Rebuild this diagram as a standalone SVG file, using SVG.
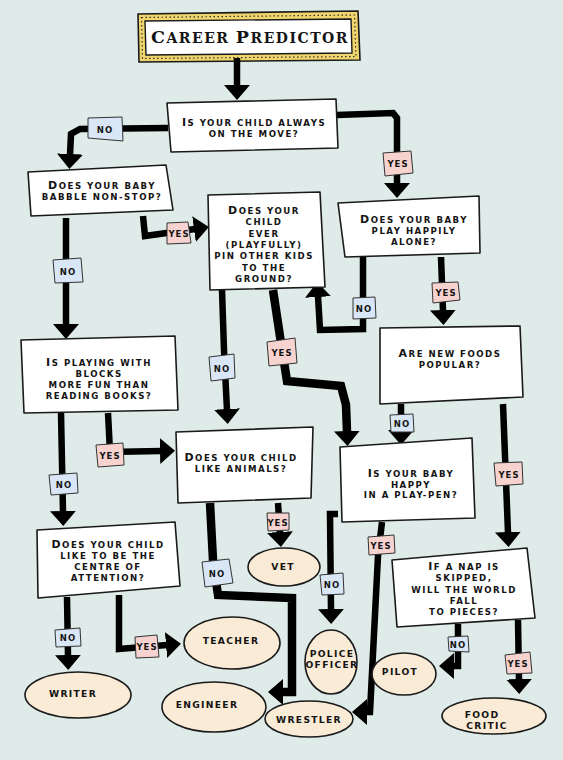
<svg xmlns="http://www.w3.org/2000/svg" width="563" height="760" viewBox="0 0 563 760">
<defs>
<style>
.bg{fill:#deebe8}
.box{fill:#fff;stroke:#1a1a1a;stroke-width:1.6;stroke-linejoin:round}
.term{fill:#faebd7;stroke:#1a1a1a;stroke-width:1.6}
.c{fill:none;stroke:#000;stroke-width:6.5;stroke-linejoin:miter;marker-end:url(#ah)}
.cw{stroke-width:8.5}
.no{fill:#d9e6f5;stroke:#333;stroke-width:1}
.yes{fill:#f7d3d0;stroke:#333;stroke-width:1}
text{font-family:"DejaVu Sans","Liberation Sans",sans-serif;font-weight:bold;fill:#141414;text-anchor:middle}
.q{font-size:8.6px;text-transform:uppercase;letter-spacing:1.5px}
.k{font-size:11px}
.t{font-size:9.2px;letter-spacing:1.3px}
.l{font-size:8.5px;letter-spacing:1px}
.title{font-family:"DejaVu Serif","Liberation Serif",serif;font-size:14px;text-transform:uppercase;letter-spacing:1.5px}
.tk{font-size:17.5px}
</style>
<marker id="ah" markerUnits="userSpaceOnUse" viewBox="0 0 15 26" markerWidth="15" markerHeight="26" refX="1" refY="13" orient="auto">
<path d="M0,0 L15,13 L0,26 Z" fill="#000"/>
</marker>
</defs>
<rect class="bg" x="0" y="0" width="563" height="760"/>

<g id="title">
<path d="M138,14 L358,11 L360,60 L139,62 Z" fill="#efd56b" stroke="#1a1a1a" stroke-width="1.6"/>
<path d="M141.5,17.5 L354.5,15 L356,56.5 L142.5,58.5 Z" fill="none" stroke="#333" stroke-width="1.2" stroke-dasharray="1.5,2.5"/>
<path d="M145,21 L351,19 L352,53 L146,55 Z" fill="#fff" stroke="#1a1a1a" stroke-width="1.4"/>
<text class="title" x="250" y="43"><tspan class="tk">C</tspan>areer <tspan class="tk">P</tspan>redictor</text>
</g>

<g id="connectors">
<path class="c" d="M237,58 L237,86"/>
<path class="c" d="M168,128 L80,129 L71,134 L70,155"/>
<path class="c" d="M337,115 L393,113 L397,118 L397,184"/>
<path class="c" d="M363,257 L363,329 L320,330 L318,296"/>
<path class="c" d="M441,257 L443,311"/>
<path class="c" d="M401,404 L401,431"/>
<path class="c" d="M503,404 L508,533"/>
<path class="c cw" d="M273,290 L281,343 L287,381 L341,386 L346,405 L347,432"/>
<path class="c" d="M222,290 L224,350 L227,410"/>
<path class="c" d="M143,216 L145,236 L195,229"/>
<path class="c" d="M66,218 L66,325"/>
<path class="c" d="M61,413 L63,512"/>
<path class="c" d="M108,413 L110,452 L161,451"/>
<path class="c" d="M278,503 L280,533"/>
<path class="c cw" d="M210,503 L213,560 L218,595 L292,598 L292,692 L282,692"/>
<path class="c" d="M338,514 L330,514 L331,610"/>
<path class="c" d="M382,522 L378,556 L370,712 L366,712"/>
<path class="c" d="M458,624 L458,666 L453,666"/>
<path class="c" d="M518,620 L519,680"/>
<path class="c" d="M67,597 L68,656"/>
<path class="c" d="M119,595 L119,649 L167,645"/>
</g>

<g id="edge-labels">
<path class="no" d="M88,118 L122,117 L123,141 L88,138 Z"/><text class="l" x="105" y="133">NO</text>
<path class="yes" d="M383,153 L411,151 L413,173 L385,176 Z"/><text class="l" x="398" y="167">YES</text>
<path class="yes" d="M167,223 L188,222 L191,243 L167,244 Z"/><text class="l" x="179" y="237">YES</text>
<path class="no" d="M53,260 L81,258 L83,282 L55,283 Z"/><text class="l" x="68" y="275">NO</text>
<path class="no" d="M353,298 L375,297 L376,318 L353,319 Z"/><text class="l" x="364" y="312">NO</text>
<path class="yes" d="M432,283 L458,282 L460,300 L433,303 Z"/><text class="l" x="446" y="296">YES</text>
<path class="no" d="M390,415 L413,414 L414,432 L391,432 Z"/><text class="l" x="402" y="427">NO</text>
<path class="yes" d="M494,463 L522,462 L523,484 L496,486 Z"/><text class="l" x="509" y="478">YES</text>
<path class="yes" d="M267,342 L295,338 L297,363 L269,366 Z"/><text class="l" x="282" y="356">YES</text>
<path class="no" d="M209,357 L234,354 L235,378 L211,381 Z"/><text class="l" x="222" y="372">NO</text>
<path class="yes" d="M96,445 L123,443 L124,465 L98,467 Z"/><text class="l" x="110" y="459">YES</text>
<path class="no" d="M49,475 L77,473 L78,493 L51,495 Z"/><text class="l" x="64" y="488">NO</text>
<path class="yes" d="M267,513 L289,513 L289,530 L268,531 Z"/><text class="l" x="278" y="526">YES</text>
<path class="no" d="M202,562 L229,559 L233,583 L205,587 Z"/><text class="l" x="217" y="577">NO</text>
<path class="no" d="M320,575 L343,573 L344,594 L322,595 Z"/><text class="l" x="332" y="588">NO</text>
<path class="yes" d="M368,537 L394,535 L395,553 L369,555 Z"/><text class="l" x="381" y="549">YES</text>
<path class="no" d="M448,637 L468,636 L469,652 L449,651 Z"/><text class="l" x="458" y="648">NO</text>
<path class="yes" d="M505,655 L530,652 L532,673 L507,674 Z"/><text class="l" x="518" y="667">YES</text>
<path class="no" d="M55,630 L80,628 L81,646 L56,647 Z"/><text class="l" x="68" y="641">NO</text>
<path class="yes" d="M135,637 L157,635 L159,657 L136,658 Z"/><text class="l" x="147" y="650">YES</text>
</g>

<g id="n1">
<path class="box" d="M167,103 L336,99 L338,148 L171,152 Z"/>
<text class="q" x="254" y="126"><tspan class="k">I</tspan>s your child always</text>
<text class="q" x="254" y="137">on the move?</text>
</g>
<g id="n2">
<path class="box" d="M28,172 L166,165 L173,210 L31,216 Z"/>
<text class="q" x="102" y="189"><tspan class="k">D</tspan>oes your baby</text>
<text class="q" x="102" y="200">babble non-stop?</text>
</g>
<g id="n3">
<path class="box" d="M208,195 L320,192 L325,287 L210,290 Z"/>
<text class="q" x="264" y="214"><tspan class="k">D</tspan>oes your</text>
<text class="q" x="264" y="225.3">child</text>
<text class="q" x="264" y="236.6">ever</text>
<text class="q" x="264" y="247.9">(playfully)</text>
<text class="q" x="264" y="259.2">pin other kids</text>
<text class="q" x="264" y="270.5">to the</text>
<text class="q" x="264" y="281.8">ground?</text>
</g>
<g id="n4">
<path class="box" d="M338,203 L479,196 L480,253 L345,257 Z"/>
<text class="q" x="414" y="223"><tspan class="k">D</tspan>oes your baby</text>
<text class="q" x="414" y="234">play happily</text>
<text class="q" x="414" y="245">alone?</text>
</g>
<g id="n5">
<path class="box" d="M380,328 L520,326 L523,397 L380,404 Z"/>
<text class="q" x="450" y="357"><tspan class="k">A</tspan>re new foods</text>
<text class="q" x="450" y="368">popular?</text>
</g>
<g id="n6">
<path class="box" d="M21,340 L175,336 L178,410 L24,413 Z"/>
<text class="q" x="99" y="366"><tspan class="k">I</tspan>s playing with</text>
<text class="q" x="99" y="377">blocks</text>
<text class="q" x="99" y="388">more fun than</text>
<text class="q" x="99" y="399">reading books?</text>
</g>
<g id="n7">
<path class="box" d="M176,432 L313,427 L311,498 L178,503 Z"/>
<text class="q" x="241" y="461"><tspan class="k">D</tspan>oes your child</text>
<text class="q" x="241" y="471.5">like animals?</text>
</g>
<g id="n8">
<path class="box" d="M340,447 L472,438 L475,518 L342,522 Z"/>
<text class="q" x="411" y="477"><tspan class="k">I</tspan>s your baby</text>
<text class="q" x="411" y="487.5">happy</text>
<text class="q" x="411" y="498">in a play-pen?</text>
</g>
<g id="n9">
<path class="box" d="M392,560 L527,548 L535,618 L397,627 Z"/>
<text class="q" x="464" y="570"><tspan class="k">I</tspan>f a nap is</text>
<text class="q" x="464" y="581">skipped,</text>
<text class="q" x="464" y="592.5">will the world</text>
<text class="q" x="464" y="603.5">fall</text>
<text class="q" x="464" y="614.5">to pieces?</text>
</g>
<g id="n10">
<path class="box" d="M37,530 L175,522 L180,586 L38,598 Z"/>
<text class="q" x="108" y="548"><tspan class="k">D</tspan>oes your child</text>
<text class="q" x="108" y="559">like to be the</text>
<text class="q" x="108" y="570">centre of</text>
<text class="q" x="108" y="581">attention?</text>
</g>

<g id="vet"><ellipse class="term" cx="284" cy="567" rx="36" ry="19"/><text class="t" x="283" y="570">VET</text></g>
<g id="teacher"><ellipse class="term" cx="232" cy="643" rx="48" ry="26"/><text class="t" x="231" y="644">TEACHER</text></g>
<g id="writer"><ellipse class="term" cx="78" cy="695" rx="53" ry="23"/><text class="t" x="73" y="697">WRITER</text></g>
<g id="engineer"><ellipse class="term" cx="214" cy="707" rx="52" ry="25"/><text class="t" x="207" y="708">ENGINEER</text></g>
<g id="wrestler"><ellipse class="term" cx="309" cy="719" rx="44" ry="18"/><text class="t" x="309" y="723">WRESTLER</text></g>
<g id="police-officer"><ellipse class="term" cx="331" cy="662" rx="26" ry="32"/><text class="t" x="332" y="656.5">POLICE</text><text class="t" x="332" y="668">OFFICER</text></g>
<g id="pilot"><ellipse class="term" cx="404" cy="674" rx="32" ry="21"/><text class="t" x="400" y="675">PILOT</text></g>
<g id="food-critic"><ellipse class="term" cx="494" cy="716" rx="52" ry="18"/><text class="t" x="482" y="717.5">FOOD</text><text class="t" x="487" y="729">CRITIC</text></g>
</svg>
